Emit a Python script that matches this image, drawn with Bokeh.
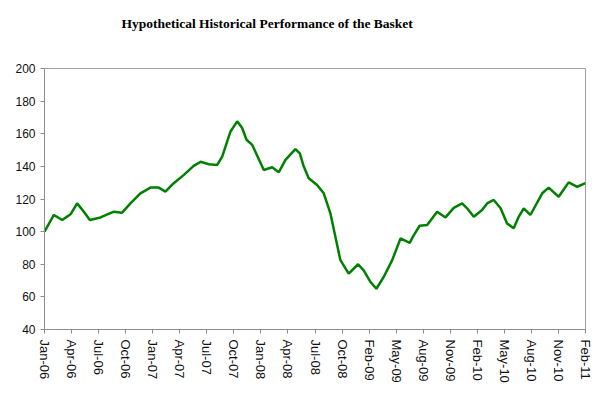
import math
from bokeh.plotting import figure
from bokeh.models import FixedTicker, Range1d, Title
from bokeh.embed import file_html
from bokeh.resources import INLINE

# weekly observation index and basket level
weeks = [0, 4.5, 8.5, 12.5, 15.7, 18.9, 21.8, 26.9, 33.3, 37.3, 41.3, 46.1, 50.9,
         54.9, 58.1, 62.1, 67, 71.7, 75, 79, 83, 85.4, 89.4, 92.6, 95, 97.1, 99.8,
         105.4, 109.4, 112.6, 115.8, 120.6, 122.7, 124.6, 127, 131, 134.2, 137.4,
         139.8, 142.2, 146.2, 150.7, 153.4, 156.7, 159.5, 163, 167.1, 171.1, 175.5,
         177.5, 180.3, 183.9, 188.7, 192.7, 196.7, 200.7, 203.1, 206.3, 210.3, 212.7,
         215.9, 219.2, 222.3, 225.5, 227.9, 230.3, 233.5, 239.2, 242.3, 247.1, 251.9,
         256, 260]
values = [100, 110.2, 107.1, 110.6, 117.3, 112.2, 107.1, 108.7, 112.2, 111.6, 117.3,
          123.5, 127, 127, 124.5, 129.7, 134.8, 140.3, 142.8, 141.3, 140.9, 146, 161.4,
          167.6, 163.5, 156.3, 153.2, 137.8, 139.5, 136.4, 144, 150.6, 148, 139.9,
          132.7, 128.6, 123.5, 111.2, 96.8, 82.5, 74.3, 80, 76.3, 69.1, 65, 72.2, 82.5,
          95.8, 93.1, 97.8, 103.6, 104, 112.2, 108.7, 114.6, 117.3, 114.3, 109.1, 113.2,
          117.3, 119.4, 114.3, 105, 102, 109.1, 114.3, 110.2, 123.5, 127, 121.4, 130.2,
          127.5, 129.7]

tick_weeks = [0, 13, 26, 39, 52, 65, 78, 91, 104, 117, 130, 143, 156, 169, 182,
              195, 208, 221, 234, 247, 260]
tick_labels = ["Jan-06", "Apr-06", "Jul-06", "Oct-06", "Jan-07", "Apr-07", "Jul-07",
               "Oct-07", "Jan-08", "Apr-08", "Jul-08", "Oct-08", "Feb-09", "May-09",
               "Aug-09", "Nov-09", "Feb-10", "May-10", "Aug-10", "Nov-10", "Feb-11"]
y_ticks = [40, 60, 80, 100, 120, 140, 160, 180, 200]
title_text = "Hypothetical Historical Performance of the Basket"

p = figure(width=598, height=389, output_backend="svg", toolbar_location=None,
           x_range=Range1d(0, 260), y_range=Range1d(40, 200),
           min_border_left=44, min_border_right=13, min_border_top=68,
           min_border_bottom=60)

# real chart title (outermost panel)
p.title.text = title_text
p.title.text_font = "Liberation Serif"
p.title.text_font_style = "bold"
p.title.text_font_size = "13.5px"
p.title.text_color = "#000000"
p.title.align = "left"
p.title.offset = 77
p.title.standoff = 0

# blank spacer panel directly above the plot frame
p.add_layout(Title(text=" ", text_font_size="1px", standoff=35), "above")

p.line(weeks, values, line_color="#008000", line_width=2.5)

p.xgrid.visible = False
p.ygrid.visible = False
p.outline_line_color = "#a0a0a0"
p.outline_line_width = 1

for ax in (p.xaxis, p.yaxis):
    ax.axis_line_color = "#8c8c8c"
    ax.major_tick_line_color = "#8c8c8c"
    ax.major_tick_in = 0
    ax.major_tick_out = 4
    ax.minor_tick_line_color = None
    ax.major_label_text_font = "Liberation Sans"
    ax.major_label_text_color = "#111111"

p.yaxis.ticker = FixedTicker(ticks=y_ticks)
p.yaxis.major_label_text_font_size = "12px"
p.yaxis.major_label_standoff = 5

p.xaxis.ticker = FixedTicker(ticks=tick_weeks)
p.xaxis.major_label_overrides = {w: l for w, l in zip(tick_weeks, tick_labels)}
p.xaxis.major_label_orientation = -math.pi / 2
p.xaxis.major_label_text_font_size = "13px"
p.xaxis.major_label_standoff = 6

open("out.html", "w").write(file_html(p, INLINE))
